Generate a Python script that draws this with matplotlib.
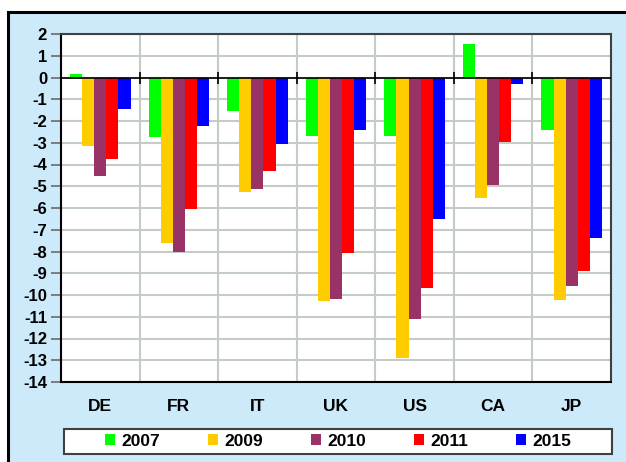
import matplotlib
matplotlib.use("Agg")
import matplotlib.pyplot as plt
import numpy as np
from matplotlib.patches import Rectangle, Patch

categories = ["DE", "FR", "IT", "UK", "US", "CA", "JP"]
years = ["2007", "2009", "2010", "2011", "2015"]
v2007 = [0.15, -2.74, -1.52, -2.71, -2.71, 1.55, -2.41]
v2009 = [-3.15, -7.59, -5.25, -10.26, -12.88, -5.54, -10.23]
v2010 = [-4.51, -8.02, -5.13, -10.18, -11.09, -4.96, -9.60]
v2011 = [-3.73, -6.03, -4.31, -8.08, -9.68, -2.97, -8.91]
v2015 = [-1.43, -2.22, -3.04, -2.41, -6.52, -0.30, -7.38]
series = [v2007, v2009, v2010, v2011, v2015]
colors = ["#00FF00", "#FFCC00", "#993366", "#FF0000", "#0000FF"]
yticks = list(range(-14, 3))

plt.rcParams['font.family'] = ['Liberation Sans', 'DejaVu Sans']
plt.rcParams['font.weight'] = 'bold'

W, H = 626, 462
fig = plt.figure(figsize=(W/100, H/100), dpi=100, facecolor="white")
# outer blue panel
fig.patches.append(Rectangle((8/W, -0.01), 1.0, (H-12)/H + 0.01, transform=fig.transFigure,
                             facecolor="#CDEAFB", edgecolor="black", linewidth=2.2, zorder=-5))
# legend box
fig.patches.append(Rectangle((64/W, 1-454/H), 548/W, 25/H, transform=fig.transFigure,
                             facecolor="white", edgecolor="#404040", linewidth=1.5, zorder=-4))

ax = fig.add_axes([61/W, 1-382/H, 550/W, 348/H])
ax.set_zorder(2)
ax.set_facecolor("white")
x = np.arange(len(categories))
bw = 0.154
for i, (vals, c, lab) in enumerate(zip(series, colors, years)):
    ax.bar(x + (i - 2) * bw, vals, width=bw, color=c, label=lab, zorder=3,
           edgecolor="none")

ax.set_xlim(-0.5, len(categories) - 0.5)
ax.set_ylim(-14, 2)
ax.set_yticks(yticks)
ax.set_yticklabels([str(t) for t in yticks], fontsize=12, fontweight='bold')
ax.set_xticks(x)
ax.set_xticklabels(categories, fontsize=12.5, fontweight='bold')
ax.tick_params(axis='x', length=0, pad=12)
ax.tick_params(axis='y', length=7, width=1.2, color="#6a6a6a", pad=3)

# grid
for t in yticks:
    ax.axhline(t, color="#C4CCC6", linewidth=1.5, zorder=1)
bounds = np.arange(len(categories) + 1) - 0.5
for b in bounds[1:-1]:
    ax.axvline(b, color="#C4CCC6", linewidth=1.5, zorder=1)
ax.axhline(0, color="black", linewidth=1.2, zorder=4)
ax.plot(bounds[1:-1], np.zeros(len(bounds) - 2), linestyle="none", marker="|",
        markersize=8, markeredgewidth=1.2, color="black", zorder=5)

for s in ["left", "bottom"]:
    ax.spines[s].set_color("black")
    ax.spines[s].set_linewidth(1.5)
for s in ["top", "right"]:
    ax.spines[s].set_color("#404040")
    ax.spines[s].set_linewidth(1.5)

leg = fig.legend(handles=[Patch(facecolor=c, label=l) for c, l in zip(colors, years)],
                 loc="center", bbox_to_anchor=((64 + 274)/W, 1-441.5/H),
                 ncol=5, frameon=False,
                 prop={'size': 12.5, 'weight': 'bold'}, handlelength=0.6, handleheight=0.6,
                 handletextpad=0.35, columnspacing=2.75, borderaxespad=0, borderpad=0.2)

fig.savefig("out.png", dpi=100, facecolor="white")
